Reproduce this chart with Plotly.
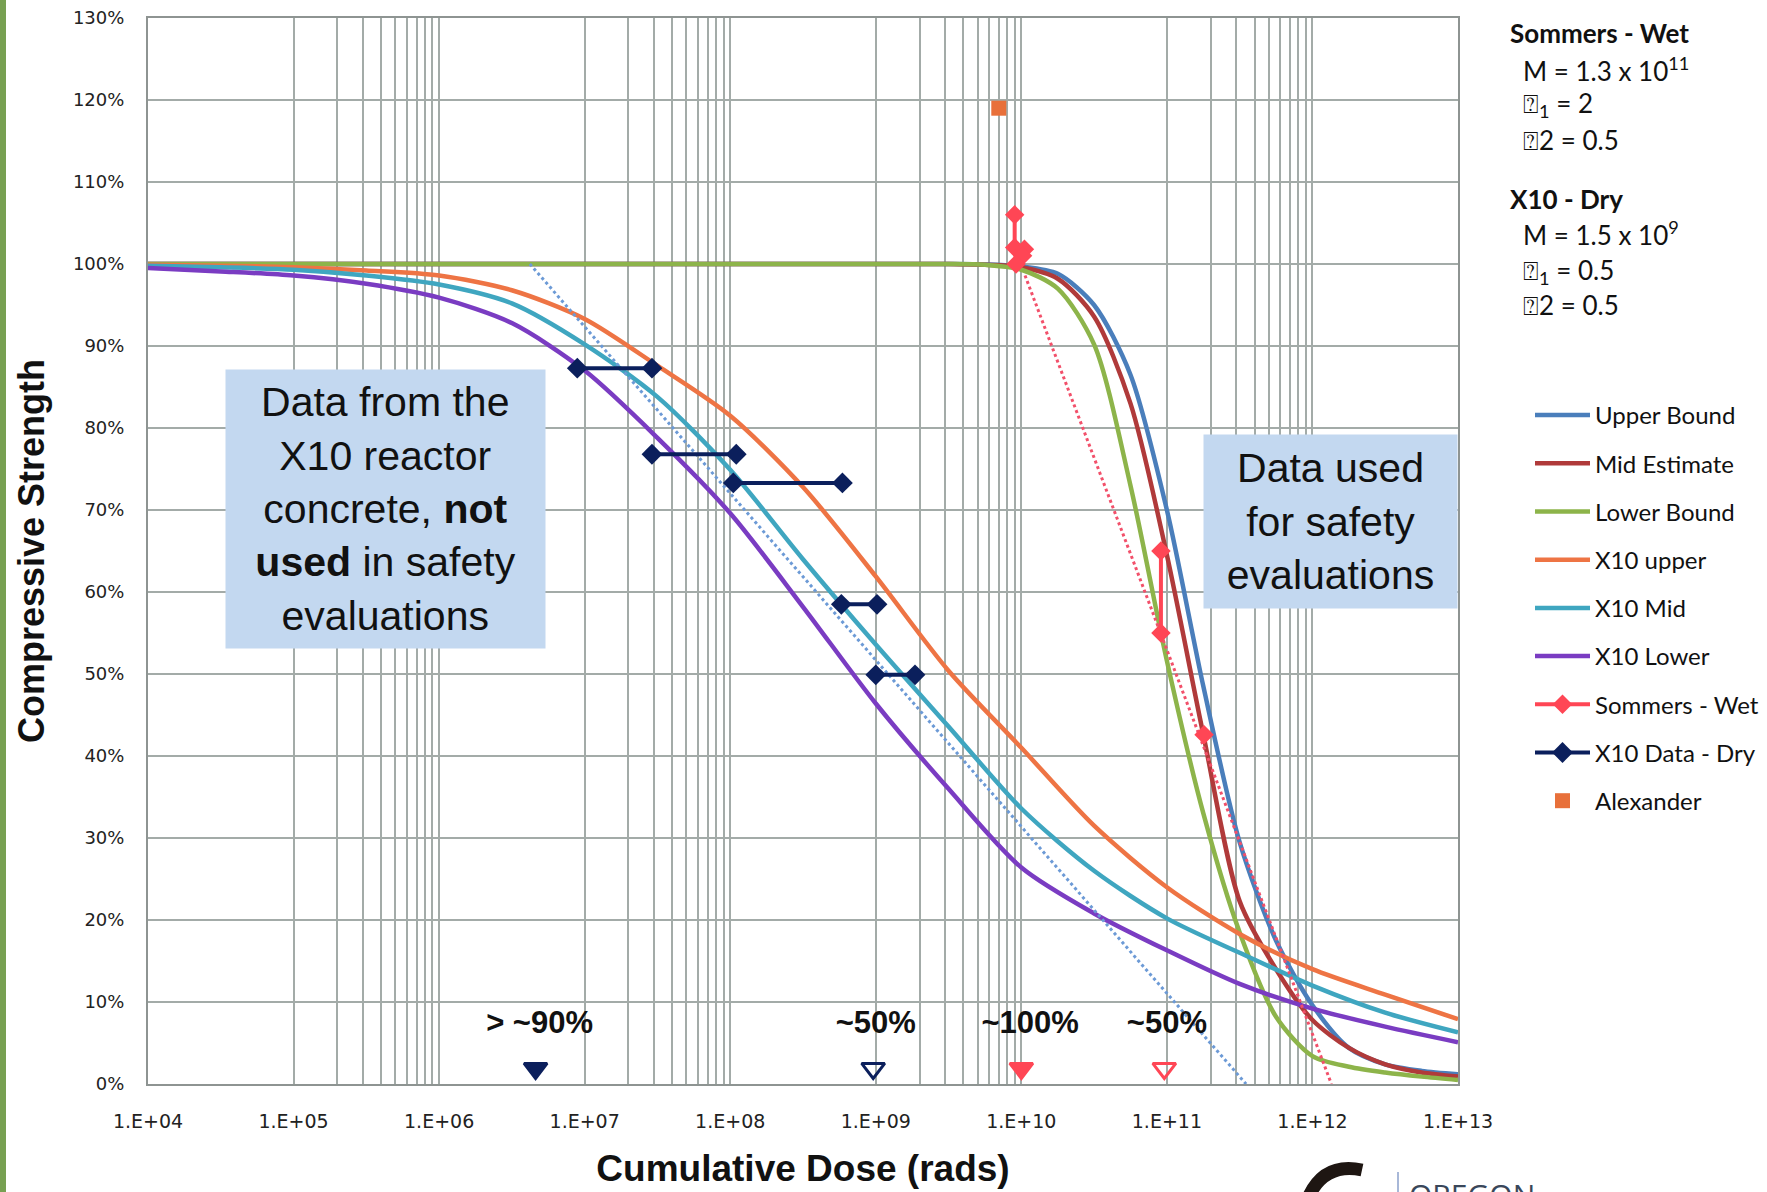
import plotly.graph_objects as go

# ---------------- data ----------------
# Sommers model curves (dose in rads, strength in %)
upper_x = [1e4, 1e6, 1e8, 1e9, 3.16e9, 5.62e9, 1e10, 1.78e10, 3.16e10, 5.62e10, 1e11, 1.78e11, 3.16e11, 5.62e11, 1e12, 1.78e12, 3.16e12, 5.62e12, 1e13]
upper_y = [100, 100, 100, 100, 100, 99.95, 99.7, 98.8, 95.0, 86.5, 70.0, 48.5, 29.5, 17.5, 9.6, 4.4, 2.4, 1.6, 1.2]

mid_x = [1e4, 1e6, 1e8, 1e9, 3.16e9, 5.62e9, 1e10, 1.78e10, 3.16e10, 5.62e10, 1e11, 1.78e11, 3.16e11, 5.62e11, 1e12, 1.78e12, 3.16e12, 5.62e12, 1e13]
mid_y = [100, 100, 100, 100, 100, 99.9, 99.6, 98.2, 93.6, 83.0, 64.5, 42.6, 22.3, 14, 7.8, 4.4, 2.4, 1.4, 0.9]

lower_x = [1e4, 1e6, 1e8, 1e9, 3.16e9, 5.62e9, 1e10, 1.78e10, 3.16e10, 5.62e10, 1e11, 1.78e11, 3.16e11, 5.62e11, 1e12, 1.78e12, 3.16e12, 5.62e12, 1e13]
lower_y = [100, 100, 100, 100, 100, 99.9, 99.3, 97, 90.2, 73, 51.6, 33, 18.5, 8.2, 3.4, 2.1, 1.4, 0.9, 0.5]

# X10 model curves (half-decade readings)
x10_x = [1e4, 3.16e4, 1e5, 3.16e5, 1e6, 3.16e6, 1e7, 3.16e7, 1e8, 3.16e8, 1e9, 3.16e9, 1e10, 3.16e10, 1e11, 3.16e11, 1e12, 3.16e12, 1e13]
x10u_y = [99.9, 99.8, 99.6, 99.2, 98.6, 96.8, 93.3, 87.6, 81.5, 72.8, 61.9, 50.4, 41, 31.5, 24, 18.3, 14.0, 10.9, 7.9]
x10m_y = [99.8, 99.6, 99.3, 98.6, 97.5, 95.2, 90.2, 83.8, 74.9, 64.0, 53.6, 43.6, 33.6, 26, 20.2, 16, 12.0, 8.7, 6.3]
x10l_y = [99.5, 99.1, 98.6, 97.6, 95.9, 92.8, 87.0, 78.8, 69.6, 58.2, 46.4, 36, 26.4, 20.8, 16.3, 12.2, 9.2, 7.0, 5.1]

# Measured data (None separates the groups)
sommers_x = [9.0e9, 9.0e9, 1.05e10, 1.02e10, 9.2e9, None, 9.1e10, 9.1e10, None, 1.8e11]
sommers_y = [106, 102, 101.8, 101, 100, None, 65, 55, None, 42.6]

x10data_x = [8.9e6, 2.9e7, None, 2.9e7, 1.1e8, None, 1.05e8, 5.9e8, None, 5.8e8, 1.02e9, None, 1.0e9, 1.86e9]
x10data_y = [87.3, 87.3, None, 76.8, 76.8, None, 73.3, 73.3, None, 58.5, 58.5, None, 49.9, 49.9]

alex_x = [7e9]
alex_y = [119]

# Dotted trend lines
trend_wet_x = [1.06e10, 1.35e12]
trend_wet_y = [98.6, 0]
trend_dry_x = [4.2e6, 3.5e11]
trend_dry_y = [100, 0]

# Markers and labels along the bottom
tri_x = [4.6e6, 9.6e8, 1.0e10, 9.6e10]
tri_y = [1.9, 1.9, 1.9, 1.9]
tri_symbols = ["triangle-down", "triangle-down-open", "triangle-down", "triangle-down-open"]
tri_colors = ["#0B1F5C", "#0B1F5C", "#FF4655", "#FF4655"]
lab_x = [4.9e6, 1.0e9, 1.15e10, 1.0e11]
lab_y = [7.2, 7.2, 7.2, 7.2]
lab_text = ["> ~90%", "~50%", "~100%", "~50%"]

tick_vals = [1e4, 1e5, 1e6, 1e7, 1e8, 1e9, 1e10, 1e11, 1e12, 1e13]
tick_text = ["1.E+04", "1.E+05", "1.E+06", "1.E+07", "1.E+08", "1.E+09", "1.E+10", "1.E+11", "1.E+12", "1.E+13"]
minor_decades = [1e5, 1e7, 1e9, 1e11]
minor_steps = [2, 3, 4, 5, 6, 7, 8, 9]
minor_vals = [d * k for d in minor_decades for k in minor_steps]
y_tick_vals = [0, 10, 20, 30, 40, 50, 60, 70, 80, 90, 100, 110, 120, 130]
y_tick_text = ["0%", "10%", "20%", "30%", "40%", "50%", "60%", "70%", "80%", "90%", "100%", "110%", "120%", "130%"]

# ---------------- figure ----------------
W, H = 1767, 1192
L, R, T, B = 148, 309, 18, 108
PW, PH = W - L - R, H - T - B


def px(x):
    return (x - L) / PW


def py(y):
    return (H - B - y) / PH


fig = go.Figure()

LW = 4.5
curves = [
    ("Upper Bound", upper_x, upper_y, "#4A7EBB"),
    ("Mid Estimate", mid_x, mid_y, "#B03A3A"),
    ("Lower Bound", lower_x, lower_y, "#8DB44A"),
    ("X10 upper", x10_x, x10u_y, "#EE7444"),
    ("X10 Mid", x10_x, x10m_y, "#3FA6C0"),
    ("X10 Lower", x10_x, x10l_y, "#7A3CC2"),
]
for i, (name, xs, ys, col) in enumerate(curves):
    fig.add_trace(go.Scatter(x=xs, y=ys, name=name, mode="lines",
                             line=dict(color=col, width=LW, shape="spline", smoothing=0.8),
                             legendgroup="g%d" % i))

# trend lines
fig.add_trace(go.Scatter(x=trend_dry_x, y=trend_dry_y, mode="lines", showlegend=False,
                         line=dict(color="#6C9AD6", width=3, dash="dot"), hoverinfo="skip"))
fig.add_trace(go.Scatter(x=trend_wet_x, y=trend_wet_y, mode="lines", showlegend=False,
                         line=dict(color="#F2506A", width=3, dash="dot"), hoverinfo="skip"))

fig.add_trace(go.Scatter(x=sommers_x, y=sommers_y, name="Sommers - Wet", mode="lines+markers",
                         line=dict(color="#FF4655", width=4),
                         marker=dict(symbol="diamond", size=15, color="#FF4655"),
                         connectgaps=False, legendgroup="g6"))
fig.add_trace(go.Scatter(x=x10data_x, y=x10data_y, name="X10 Data - Dry", mode="lines+markers",
                         line=dict(color="#0B1F5C", width=4),
                         marker=dict(symbol="diamond", size=16, color="#0B1F5C"),
                         connectgaps=False, legendgroup="g7"))
fig.add_trace(go.Scatter(x=alex_x, y=alex_y, name="Alexander", mode="markers",
                         marker=dict(symbol="square", size=15, color="#E8703A"),
                         legendgroup="g8"))

fig.add_trace(go.Scatter(x=tri_x, y=tri_y, mode="markers", showlegend=False,
                         marker=dict(symbol=tri_symbols, size=20, color=tri_colors,
                                     line=dict(width=3, color=tri_colors))))
fig.add_trace(go.Scatter(x=lab_x, y=lab_y, mode="text", text=lab_text, showlegend=False,
                         textfont=dict(family="Liberation Sans, Arial", size=31, color="#111111", weight="bold")))

grid_col = "#A3ABA8"
fig.update_xaxes(type="log", range=[4, 13], tickvals=tick_vals, ticktext=tick_text,
                 showgrid=True, gridcolor=grid_col, gridwidth=1.6,
                 minor=dict(tickvals=minor_vals, showgrid=True, gridcolor=grid_col, gridwidth=1.6, ticks=""),
                 showline=True, linecolor="#8E9492", linewidth=2, mirror=True,
                 ticks="", ticklabelstandoff=19, automargin=False,
                 tickfont=dict(family="DejaVu Sans", size=19, color="#222222"),
                 title=dict(text="<b>Cumulative Dose (rads)</b>", standoff=24,
                            font=dict(family="Liberation Sans, Arial", size=37, color="#111111")),
                 zeroline=False)
fig.update_yaxes(range=[0, 130], tickvals=y_tick_vals, ticktext=y_tick_text,
                 showgrid=True, gridcolor=grid_col, gridwidth=1.6,
                 showline=True, linecolor="#8E9492", linewidth=2, mirror=True,
                 ticks="", ticklabelstandoff=18, automargin=False,
                 tickfont=dict(family="DejaVu Sans", size=18, color="#222222"),
                 title=dict(text="<b>Compressive Strength</b>", standoff=17,
                            font=dict(family="Liberation Sans, Arial", size=36, color="#111111")),
                 zeroline=False)

box_col = "#C3D8F0"
annots = [
    dict(x=px(385), y=py(509), xref="paper", yref="paper", xanchor="center", yanchor="middle",
         text="Data from the<br>X10 reactor<br>concrete, <b>not</b><br><b>used</b> in safety<br>evaluations",
         showarrow=False, bgcolor=box_col, width=317, height=276, align="center", valign="middle",
         font=dict(family="Liberation Sans, Arial", size=41, color="#111111")),
    dict(x=px(1330), y=py(521), xref="paper", yref="paper", xanchor="center", yanchor="middle",
         text="Data used<br>for safety<br>evaluations",
         showarrow=False, bgcolor=box_col, width=251, height=171, align="center", valign="middle",
         font=dict(family="Liberation Sans, Arial", size=41, color="#111111")),
]
side_lines = [
    ("<b>Sommers - Wet</b>", 1508, 33),
    ("M = 1.3 x 10<sup>11</sup>", 1521, 69),
    ("⍰<sub>1</sub> = 2", 1521, 105),
    ("⍰2 = 0.5", 1521, 140),
    ("<b>X10 - Dry</b>", 1508, 199),
    ("M = 1.5 x 10<sup>9</sup>", 1521, 233),
    ("⍰<sub>1</sub> = 0.5", 1521, 271),
    ("⍰2 = 0.5", 1521, 305),
]
for txt, xx, yy in side_lines:
    annots.append(dict(x=px(xx), y=py(yy), xref="paper", yref="paper", text=txt,
                       showarrow=False, xanchor="left", yanchor="middle",
                       font=dict(family="Lato, Carlito, sans-serif", size=26, color="#111111")))
annots.append(dict(x=px(1407), y=py(1172), xref="paper", yref="paper", text="OREGON",
                   showarrow=False, xanchor="left", yanchor="top",
                   font=dict(family="Open Sans", size=30, color="#3A475A")))

shapes = [
    dict(type="rect", xref="paper", yref="paper", x0=px(0), x1=px(6), y0=py(H), y1=py(0),
         fillcolor="#77A052", line=dict(width=0), layer="above"),
    dict(type="line", xref="paper", yref="paper", x0=px(1398), x1=px(1398), y0=py(1172), y1=py(1192),
         line=dict(color="#A8B8D8", width=2)),
    dict(type="path", xref="paper", yref="paper",
         path="M %f,%f Q %f,%f %f,%f" % (px(1308), py(1198), px(1324), py(1162), px(1362), py(1170)),
         line=dict(color="#1E1612", width=13)),
]

fig.update_layout(
    width=W, height=H, autosize=False,
    margin=dict(l=L, r=R, t=T, b=B, autoexpand=False),
    paper_bgcolor="white", plot_bgcolor="white",
    annotations=annots, shapes=shapes,
    legend=dict(x=px(1530), y=py(393), xanchor="left", yanchor="top",
                font=dict(family="Lato, Carlito, sans-serif", size=24, color="#111111"),
                tracegroupgap=14, itemwidth=55, bgcolor="rgba(0,0,0,0)"),
    showlegend=True,
)

fig.write_html("out.html", config={"displayModeBar": False},
               post_script="document.body.style.margin='0';document.body.style.padding='0';")
